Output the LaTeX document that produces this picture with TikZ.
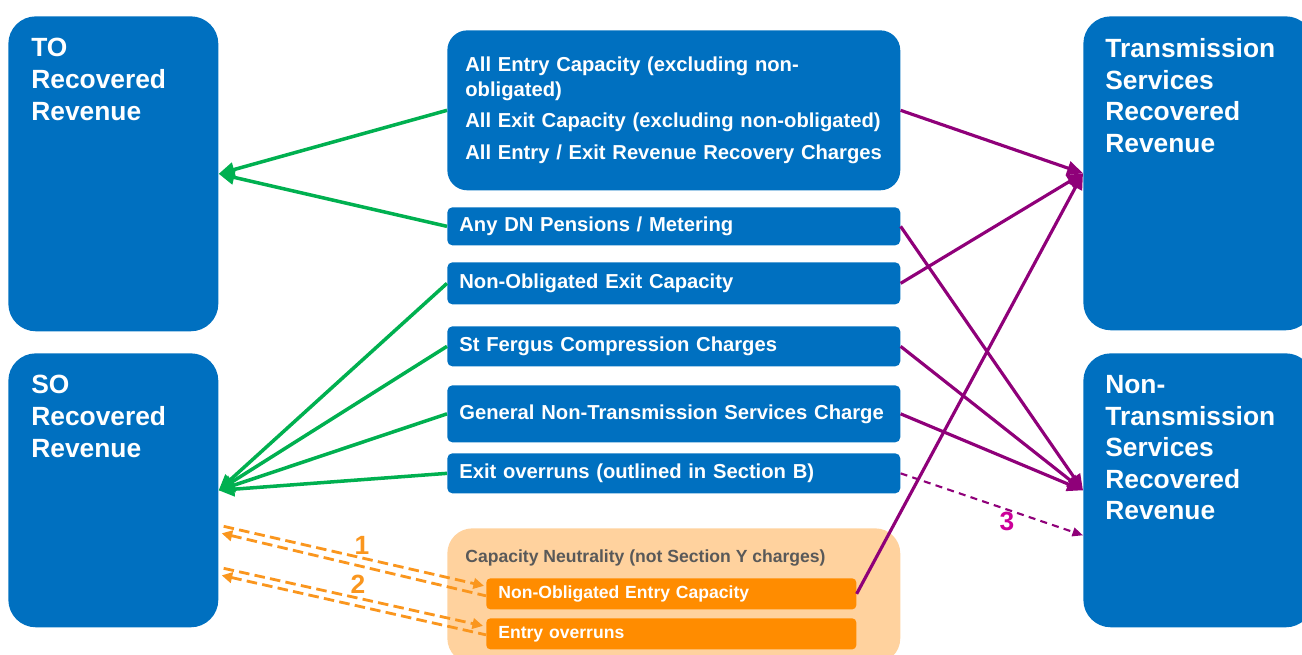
\documentclass[tikz,border=0pt]{standalone}
\usepackage{fontspec}
\setmainfont{Liberation Sans}
\usetikzlibrary{arrows.meta,calc}
\definecolor{revblue}{RGB}{0,112,192}
\definecolor{togreen}{RGB}{0,176,80}
\definecolor{tspurple}{RGB}{143,0,121}
\definecolor{neutorange}{RGB}{255,140,0}
\definecolor{neutline}{RGB}{250,150,30}
\definecolor{neutlight}{RGB}{255,210,158}
\definecolor{neutgrey}{RGB}{89,89,89}
\definecolor{numpink}{RGB}{204,0,153}
\begin{document}
\begin{tikzpicture}[x=0.02cm,y=-0.02cm,
    revbox/.style={fill=revblue,rounded corners=0.55cm,anchor=north west,
      minimum width=4.2cm,inner sep=0},
    revtext/.style={text=white,anchor=north west,inner sep=0,align=left,
      font=\fontsize{15}{18}\selectfont\bfseries},
    itembox/.style={fill=revblue,rounded corners=0.1cm,anchor=north west,
      text=white,inner xsep=0.24cm,inner ysep=0,text width=8.58cm,align=left,
      font=\fontsize{11.5}{14}\selectfont\bfseries},
    neutbox/.style={fill=neutorange,rounded corners=0.08cm,anchor=north west,
      text=white,inner xsep=0.24cm,inner ysep=0,text width=6.92cm,align=left,
      minimum height=0.62cm,font=\fontsize{10}{12}\selectfont\bfseries},
    toline/.style={draw=togreen,line width=2pt,>={Triangle[length=9pt,width=8pt]}},
    tsline/.style={draw=tspurple,line width=1.8pt,>={Triangle[length=9pt,width=8pt]}},
    flowline/.style={draw=neutline,line width=1.6pt,dash pattern=on 6pt off 3pt,
      >={Triangle[length=6pt,width=6pt]}},
    numlabel/.style={font=\fontsize{15}{18}\selectfont\bfseries}]
  \useasboundingbox (0,0) rectangle (1302,655);

  % revenue pots
  \node[revbox,minimum height=6.3cm] (to) at (8,16) {};
  \node[revtext] at (31,38) {TO\\Recovered\\Revenue};
  \node[revbox,minimum height=5.48cm] (so) at (8,353) {};
  \node[revtext] at (31,375) {SO\\Recovered\\Revenue};
  \node[revbox,minimum height=6.28cm,minimum width=4.6cm] (ts) at (1083,16) {};
  \node[revtext] at (1105,38) {Transmission\\Services\\Recovered\\Revenue};
  \node[revbox,minimum height=5.48cm,minimum width=4.6cm] (nts) at (1083,353) {};
  \node[revtext] at (1105,375) {Non-\\Transmission\\Services\\Recovered\\Revenue};

  % charges
  \node[itembox,rounded corners=0.4cm,inner xsep=0.36cm,text width=8.34cm,
    minimum height=3.2cm] (allcap) at (447,30)
    {All Entry Capacity (excluding non-\\obligated)\\[4pt]
     All Exit Capacity (excluding non-obligated)\\[4pt]
     All Entry / Exit Revenue Recovery Charges};
  \node[itembox,minimum height=0.76cm] (dn) at (447,207) {Any DN Pensions / Metering};
  \node[itembox,minimum height=0.84cm] (noexit) at (447,262) {Non-Obligated Exit Capacity};
  \node[itembox,minimum height=0.8cm] (stf) at (447,326) {St Fergus Compression Charges};
  \node[itembox,minimum height=1.14cm] (gen) at (447,385) {General Non-Transmission Services Charge};
  \node[itembox,minimum height=0.8cm] (exitov) at (447,453) {Exit overruns (outlined in Section B)};

  % capacity neutrality
  \node[fill=neutlight,rounded corners=0.5cm,anchor=north west,inner sep=0,
    minimum width=9.06cm,minimum height=2.7cm] (neut) at (447,528) {};
  \node[anchor=north west,inner sep=0,text=neutgrey,
    font=\fontsize{10}{12}\selectfont\bfseries] at (465,549)
    {Capacity Neutrality (not Section Y charges)};
  \node[neutbox] (noentry) at (486,578) {Non-Obligated Entry Capacity};
  \node[neutbox] (entryov) at (486,618) {Entry overruns};

  % TO / SO
  \draw[toline,->] (allcap.west) -- (to.east);
  \draw[toline,->] (dn.west) -- (to.east);
  \foreach \src in {noexit,stf,gen,exitov}
    \draw[toline,->] (\src.west) -- (so.east);

  % TS / NTS
  \draw[tsline,->] (allcap.east) -- (ts.west);
  \draw[tsline,->] (noexit.east) -- (ts.west);
  \draw[tsline,->] (noentry.east) -- (ts.west);
  \foreach \src in {dn,stf,gen}
    \draw[tsline,->] (\src.east) -- (nts.west);
  \coordinate (ntsdash) at ($(nts.west)+(0,45)$);
  \draw[tsline,line width=1.2pt,dash pattern=on 4pt off 3pt,
    >={Triangle[length=6pt,width=5pt]},->] (exitov.east) -- (ntsdash);
  \node[numlabel,text=numpink] (n3) at (1007,521) {3};

  % capacity neutrality flows
  \draw[flowline,->] ($(so.east)+(5,36)$) -- ($(noentry.west)+(-2,-8)$);
  \draw[flowline,<-] ($(so.east)+(3,43)$) -- ($(noentry.west)+(0,2)$);
  \draw[flowline,->] ($(so.east)+(5,78)$) -- ($(entryov.west)+(-3,-8)$);
  \draw[flowline,<-] ($(so.east)+(3,85)$) -- ($(entryov.west)+(0,1)$);
  \node[numlabel,text=neutline] (n1) at (362,545) {1};
  \node[numlabel,text=neutline] (n2) at (358,584) {2};
\end{tikzpicture}
\end{document}
